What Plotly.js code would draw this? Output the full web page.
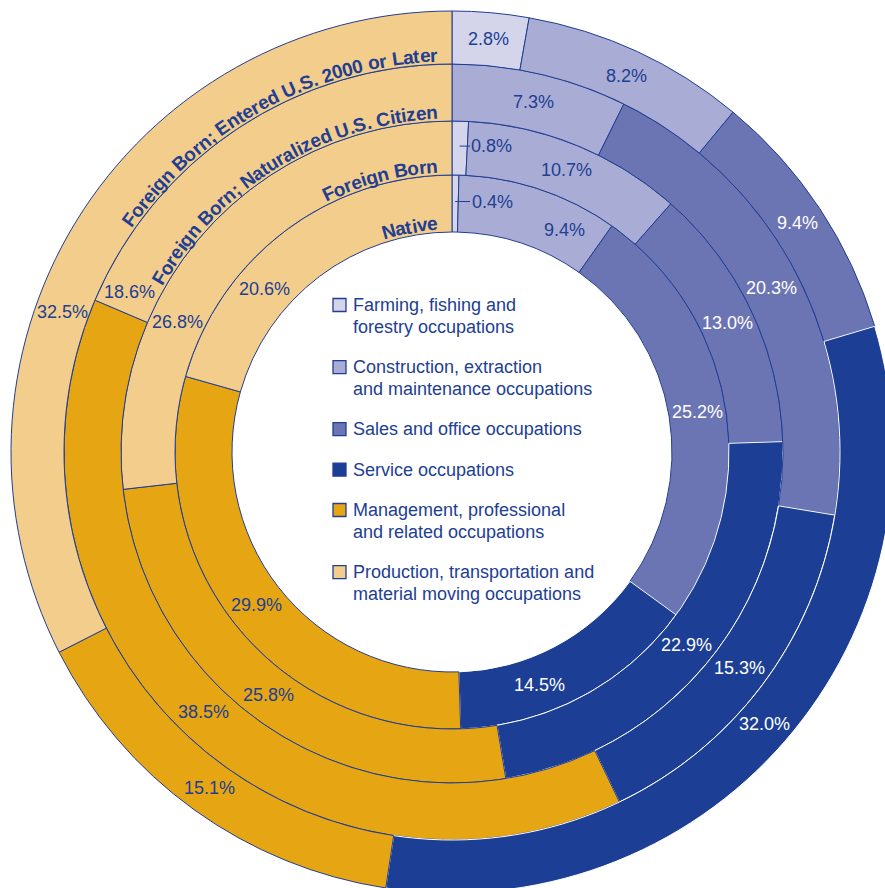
<!DOCTYPE html>
<html><head><meta charset="utf-8">
<script src="https://cdn.plot.ly/plotly-3.0.1.min.js"></script>
<style>html,body{margin:0;padding:0;overflow:hidden;background:#fff}#chart{width:904px;height:904px}</style>
</head><body><div id="chart"></div>
<script>
// ---- data ----
const categories = [
  "Farming, fishing and forestry occupations",
  "Construction, extraction and maintenance occupations",
  "Sales and office occupations",
  "Service occupations",
  "Management, professional and related occupations",
  "Production, transportation and material moving occupations"
];
const legendLabels = [
  "Farming, fishing and<br>forestry occupations",
  "Construction, extraction<br>and maintenance occupations",
  "Sales and office occupations",
  "Service occupations",
  "Management, professional<br>and related occupations",
  "Production, transportation and<br>material moving occupations"
];
const groups = ["Native", "Foreign Born", "Foreign Born; Naturalized U.S. Citizen", "Foreign Born; Entered U.S. 2000 or Later"];
const nativeVals      = [0.4, 9.4, 25.2, 14.5, 29.9, 20.6];
const foreignBornVals = [0.8, 10.7, 13.0, 22.9, 25.8, 26.8];
const naturalizedVals = [0.0, 7.3, 20.3, 15.3, 38.5, 18.6];
const entered2000Vals = [2.8, 8.2, 9.4, 32.0, 15.1, 32.5];
const colors = ["#d4d5eb", "#a9add5", "#6c75b3", "#1c3f95", "#e6a512", "#f3cd8c"];

// ---- layout / style ----
const W = 904, H = 904, CX = 452, CY = 452;
const radii = [220, 277, 331, 388, 441];
const NAVY = "#213e92";
const FONT = '"Liberation Sans", Arial, Helvetica, sans-serif';
const textColors = [NAVY, NAVY, "#ffffff", "#ffffff", NAVY, NAVY];
const lineColors = [NAVY, NAVY, NAVY, "#ffffff", NAVY, NAVY];
// where along each slice (0 = start, 1 = end) its percent label sits
const labelFrac = [
  [0.5, 0.75, 0.5, 0.64, 0.5, 0.34],
  [0.5, 0.5, 0.5, 0.5, 0.5, 0.33],
  [0.5, 0.5, 0.5, 0.5, 0.5, 0.05],
  [0.5, 0.5, 0.5, 0.5, 0.5, 0.4]
];

const series = [nativeVals, foreignBornVals, naturalizedVals, entered2000Vals];
const annotations = [];
const shapes = [];
const px2x = px => px / W, px2y = py => 1 - py / H;

const traces = series.map((vals, i) => {
  const rIn = radii[i], rOut = radii[i + 1];
  return {
    type: 'pie', values: vals, labels: categories, name: groups[i],
    sort: false, direction: 'clockwise', rotation: 0,
    hole: rIn / rOut,
    domain: {x: [(CX - rOut) / W, (CX + rOut) / W], y: [1 - (CY + rOut) / H, 1 - (CY - rOut) / H]},
    marker: {colors: colors, line: {color: lineColors, width: 1}},
    textinfo: 'none',
    hoverinfo: 'skip', showlegend: false
  };
});

// percent labels
series.forEach((vals, i) => {
  const rMid = (radii[i] + radii[i + 1]) / 2;
  let cum = 0;
  vals.forEach((v, j) => {
    const txt = v.toFixed(1) + '%';
    if (v >= 2) {
      const th = (cum + v * labelFrac[i][j]) / 100 * 2 * Math.PI;
      const px = CX + rMid * Math.sin(th), py = CY - rMid * Math.cos(th);
      annotations.push({x: px2x(px), y: px2y(py), xref: 'paper', yref: 'paper', text: txt,
        showarrow: false, xanchor: 'center', yanchor: 'middle',
        font: {family: FONT, size: 18, color: textColors[j]}});
    } else if (v > 0) {
      const r = rMid + 2;
      const th = (cum + v / 2) / 100 * 2 * Math.PI;
      const px = CX + r * Math.sin(th), py = CY - r * Math.cos(th);
      annotations.push({x: px2x(px), y: px2y(py), xref: 'paper', yref: 'paper',
        text: txt, showarrow: true, arrowhead: 0, arrowwidth: 1, arrowcolor: NAVY,
        standoff: 0, ax: (CX + 40) - px, ay: 0, font: {family: FONT, size: 18, color: NAVY}});
    }
    cum += v;
  });
});

// curved ring titles
const ctx = document.createElement('canvas').getContext('2d');
const TSIZE = 19;
ctx.font = 'bold ' + TSIZE + 'px "Liberation Sans", Arial';
groups.forEach((g, i) => {
  const r = radii[i] + 9;
  const chars = [...g];
  const widths = chars.map(ch => ctx.measureText(ch).width);
  const total = widths.reduce((a, b) => a + b, 0);
  const endArc = -14;
  let s = 0;
  chars.forEach((ch, k) => {
    const mid = s + widths[k] / 2; s += widths[k];
    if (ch === ' ') return;
    const theta = (endArc - (total - mid)) / r;
    const x = CX + r * Math.sin(theta), y = CY - r * Math.cos(theta);
    annotations.push({x: px2x(x), y: px2y(y), xref: 'paper', yref: 'paper', text: ch,
      showarrow: false, textangle: theta * 180 / Math.PI, xanchor: 'center', yanchor: 'middle',
      font: {family: FONT, size: TSIZE, color: NAVY, weight: 'bold'}});
  });
});

// legend in the hole
const legendX = 333, legendTextX = 351, lineH = 21.7, itemGap = 18.7;
let ly = 305;
legendLabels.forEach((lab, i) => {
  const lines = lab.split('<br>');
  shapes.push({type: 'rect', xref: 'paper', yref: 'paper',
    x0: px2x(legendX), x1: px2x(legendX + 13), y0: px2y(ly - 6.5), y1: px2y(ly + 6.5),
    fillcolor: colors[i], line: {color: NAVY, width: 1.3}});
  lines.forEach((ln, k) => {
    annotations.push({x: px2x(legendTextX), y: px2y(ly + k * lineH), xref: 'paper', yref: 'paper',
      text: ln, align: 'left', xanchor: 'left', yanchor: 'middle', showarrow: false,
      font: {family: FONT, size: 18, color: NAVY}});
  });
  ly += lines.length * lineH + itemGap;
});

const layout = {
  width: W, height: H, margin: {l: 0, r: 0, t: 0, b: 0},
  paper_bgcolor: '#ffffff', plot_bgcolor: '#ffffff',
  showlegend: false,
  font: {family: FONT, color: NAVY},
  annotations: annotations, shapes: shapes
};
Plotly.newPlot('chart', traces, layout, {displayModeBar: false, staticPlot: true});
</script>
</body></html>
